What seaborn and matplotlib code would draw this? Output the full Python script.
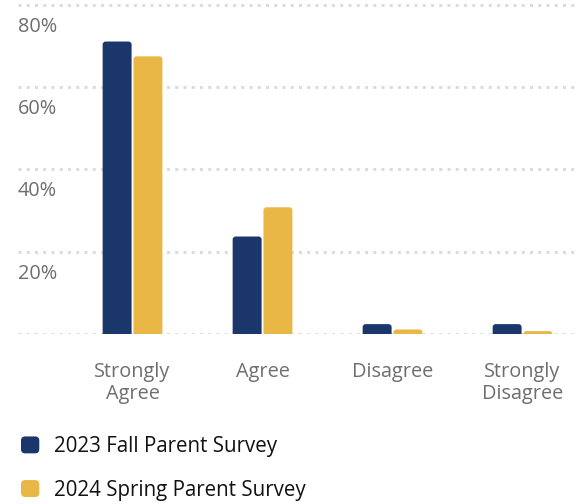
import matplotlib
matplotlib.use("Agg")
import matplotlib.pyplot as plt
import matplotlib.transforms as mtransforms
from matplotlib.patches import FancyBboxPatch, Rectangle
from matplotlib.legend_handler import HandlerPatch
import seaborn as sns
import pandas as pd

categories = ["Strongly\nAgree", "Agree", "Disagree", "Strongly\nDisagree"]
series_names = ["2023 Fall Parent Survey", "2024 Spring Parent Survey"]
fall_2023 = [71.1, 23.7, 2.4, 2.4]
spring_2024 = [67.5, 30.8, 1.1, 0.7]
y_ticks = [0, 20, 40, 60, 80]
y_tick_labels = ["", "20%", "40%", "60%", "80%"]
colors = ["#1a366b", "#e8b746"]

df = pd.DataFrame({
    "category": categories * 2,
    "survey": [series_names[0]] * 4 + [series_names[1]] * 4,
    "value": fall_2023 + spring_2024,
})

sns.set_theme(style="white")
plt.rcParams["font.family"] = ["Open Sans", "DejaVu Sans"]

FS = 14.3
W, H = 577, 504
fig = plt.figure(figsize=(W / 100, H / 100), dpi=100)
ax = fig.add_axes([18 / W, (H - 334) / H, 1 - 18 / W, 334 / H])

sns.barplot(data=df, x="category", y="value", hue="survey", palette=colors,
            width=0.474, gap=0.06, order=categories, hue_order=series_names,
            ax=ax, saturation=1, edgecolor="none", linewidth=0)

ax.set_xlim(-0.881, 3.419)
ax.set_ylim(0, 81.2)
ax.set_yticks(y_ticks)
ax.set_yticklabels([])
ax.tick_params(axis="both", length=0)
ax.set_xlabel("")
ax.set_ylabel("")
for s in ax.spines.values():
    s.set_visible(False)
ax.set_axisbelow(True)
ax.yaxis.grid(True, color="#dcdcdc", linewidth=2.16, linestyle=(0, (1, 1.75)))
ax.xaxis.grid(False)

# round the top corners of the bars (bottom corners pushed below the axis)
px_x = 559 / (3.419 + 0.881)
px_y = 334 / 81.2
r_px = 3.0
for p in list(ax.patches):
    if not isinstance(p, Rectangle) or p.get_height() <= 0:
        continue
    x0, y0 = p.get_x(), p.get_y()
    w, h = p.get_width(), p.get_height()
    ext = r_px / px_y * 2
    fb = FancyBboxPatch((x0, y0 - ext), w, h + ext,
                        boxstyle=f"round,pad=0,rounding_size={r_px / px_x}",
                        mutation_aspect=px_x / px_y,
                        facecolor=p.get_facecolor(), edgecolor="none",
                        linewidth=0, zorder=p.get_zorder())
    p.set_visible(False)
    ax.add_patch(fb)

ax.tick_params(axis="x", pad=20, labelsize=FS, labelcolor="#6e6e6e")
for lab in ax.get_xticklabels():
    lab.set_linespacing(1.15)

trans = mtransforms.blended_transform_factory(ax.transAxes, ax.transData) + \
    mtransforms.ScaledTranslation(0, -0.22, fig.dpi_scale_trans)
for v, t in zip(y_ticks, y_tick_labels):
    if t:
        ax.text(0, v, t, transform=trans, ha="left", va="center",
                fontsize=FS, color="#6e6e6e")


def rounded_square(legend, orig_handle, xdescent, ydescent, width, height, fontsize):
    return FancyBboxPatch((-xdescent, -ydescent), width, height,
                          boxstyle="round,pad=0,rounding_size=3")


handles, labels = ax.get_legend_handles_labels()
ax.legend_.remove()
LFS = 14.8
fig.legend(handles, labels, loc="upper left",
           bbox_to_anchor=(21 / W, 1 - 436 / H), frameon=False,
           fontsize=LFS, handlelength=0.89, handleheight=0.89,
           handletextpad=0.72, labelspacing=1.1, borderpad=0,
           borderaxespad=0, labelcolor="#111111",
           handler_map={h: HandlerPatch(patch_func=rounded_square) for h in handles})

fig.savefig("out.png", dpi=100)
